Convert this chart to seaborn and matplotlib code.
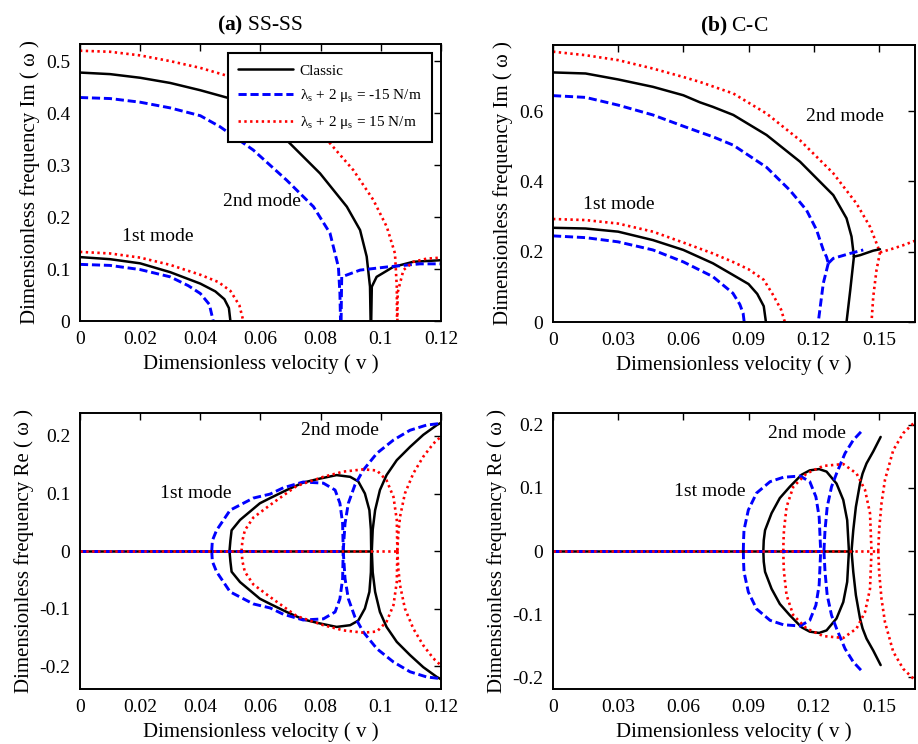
import numpy as np
import matplotlib
matplotlib.use("Agg")
import matplotlib.pyplot as plt
from matplotlib.ticker import FuncFormatter
import seaborn as sns

# ---------------- (a) SS-SS, Im(omega) ----------------
a_im_m1_cl_v = [0, 0.01, 0.02, 0.03, 0.04, 0.045, 0.048, 0.0495, 0.0500]
a_im_m1_cl_w = [0.123, 0.119, 0.111, 0.094, 0.072, 0.057, 0.042, 0.025, 0]
a_im_m1_neg_v = [0, 0.01, 0.02, 0.03, 0.036, 0.040, 0.043, 0.0443]
a_im_m1_neg_w = [0.109, 0.107, 0.099, 0.085, 0.068, 0.053, 0.032, 0]
a_im_m1_pos_v = [0, 0.01, 0.02, 0.03, 0.04, 0.046, 0.050, 0.053, 0.0543]
a_im_m1_pos_w = [0.133, 0.130, 0.122, 0.108, 0.089, 0.075, 0.058, 0.030, 0]

a_im_m2_cl_v = [0, 0.01, 0.02, 0.03, 0.04, 0.05, 0.06, 0.0687, 0.0798, 0.0887, 0.0931, 0.0953, 0.0964, 0.0966]
a_im_m2_cl_w = [0.478, 0.475, 0.468, 0.458, 0.444, 0.428, 0.395, 0.348, 0.284, 0.220, 0.175, 0.124, 0.066, 0]
a_im_m2_neg_v = [0, 0.01, 0.02, 0.03, 0.04, 0.0465, 0.0576, 0.0687, 0.0776, 0.0831, 0.0859, 0.0864, 0.0866]
a_im_m2_neg_w = [0.430, 0.428, 0.421, 0.410, 0.395, 0.374, 0.329, 0.271, 0.220, 0.169, 0.104, 0.053, 0]
a_im_m2_pos_v = [0, 0.01, 0.02, 0.03, 0.04, 0.05, 0.06, 0.07, 0.0831, 0.0909, 0.0975, 0.102, 0.1047, 0.1053, 0.1054]
a_im_m2_pos_w = [0.520, 0.518, 0.511, 0.500, 0.487, 0.470, 0.446, 0.405, 0.342, 0.290, 0.233, 0.181, 0.130, 0.066, 0]

a_im_re_cl_v = [0.0968, 0.0970, 0.0986, 0.1041, 0.1108, 0.1200]
a_im_re_cl_w = [0, 0.066, 0.085, 0.104, 0.114, 0.117]
a_im_re_neg_v = [0.0868, 0.0869, 0.0870, 0.0931, 0.1020, 0.1130, 0.1200]
a_im_re_neg_w = [0, 0.050, 0.085, 0.098, 0.104, 0.110, 0.110]
a_im_re_pos_v = [0.1055, 0.1056, 0.1075, 0.1108, 0.1152, 0.1200]
a_im_re_pos_w = [0, 0.055, 0.098, 0.114, 0.120, 0.122]

a_im_zero_cl = [0.0500, 0.0968]
a_im_zero_neg = [0.0443, 0.0868]
a_im_zero_pos = [0.0543, 0.1055]

# ---------------- (b) C-C, Im(omega) ----------------
b_im_m1_cl_v = [0, 0.015, 0.03, 0.046, 0.06, 0.0736, 0.0828, 0.09, 0.094, 0.097, 0.098]
b_im_m1_cl_w = [0.268, 0.266, 0.257, 0.233, 0.205, 0.167, 0.134, 0.108, 0.080, 0.045, 0]
b_im_m1_neg_v = [0, 0.015, 0.03, 0.046, 0.06, 0.0736, 0.0828, 0.086, 0.0875, 0.088]
b_im_m1_neg_w = [0.245, 0.240, 0.228, 0.205, 0.171, 0.129, 0.082, 0.050, 0.025, 0]
b_im_m1_pos_v = [0, 0.015, 0.03, 0.046, 0.06, 0.0736, 0.0828, 0.09, 0.097, 0.101, 0.105, 0.1067]
b_im_m1_pos_w = [0.293, 0.290, 0.280, 0.257, 0.226, 0.195, 0.171, 0.150, 0.120, 0.080, 0.035, 0]

b_im_m2_cl_v = [0, 0.015, 0.03, 0.046, 0.06, 0.0676, 0.0736, 0.083, 0.0983, 0.1137, 0.129, 0.1351, 0.1374, 0.1385]
b_im_m2_cl_w = [0.710, 0.707, 0.690, 0.669, 0.645, 0.625, 0.612, 0.589, 0.532, 0.456, 0.361, 0.295, 0.243, 0.186]
b_im_m2_neg_v = [0, 0.015, 0.03, 0.046, 0.06, 0.0676, 0.0736, 0.083, 0.0983, 0.109, 0.1167, 0.1213, 0.1244, 0.1259, 0.1267]
b_im_m2_neg_w = [0.644, 0.639, 0.617, 0.589, 0.557, 0.540, 0.527, 0.503, 0.440, 0.375, 0.318, 0.262, 0.205, 0.185, 0.167]
b_im_m2_pos_v = [0, 0.015, 0.03, 0.046, 0.06, 0.0676, 0.083, 0.0983, 0.1137, 0.129, 0.1397, 0.1459, 0.1489, 0.1505]
b_im_m2_pos_w = [0.769, 0.759, 0.745, 0.721, 0.697, 0.683, 0.650, 0.593, 0.517, 0.423, 0.337, 0.271, 0.224, 0.198]

# branches after the 2nd mode splits
b_im_dn_cl_v = [0.1385, 0.1368, 0.1351]
b_im_dn_cl_w = [0.186, 0.090, 0]
b_im_up_cl_v = [0.1385, 0.1413, 0.1474, 0.1505]
b_im_up_cl_w = [0.186, 0.190, 0.203, 0.207]
b_im_dn_neg_v = [0.1267, 0.1244, 0.1221]
b_im_dn_neg_w = [0.167, 0.110, 0]
b_im_up_neg_v = [0.1267, 0.1290, 0.1367, 0.1428]
b_im_up_neg_w = [0.167, 0.181, 0.195, 0.205]
b_im_dn_pos_v = [0.1505, 0.1489, 0.1474, 0.1466]
b_im_dn_pos_w = [0.198, 0.148, 0.072, 0]
b_im_up_pos_v = [0.1505, 0.1560, 0.1610, 0.1666]
b_im_up_pos_w = [0.198, 0.208, 0.218, 0.231]

b_im_zero_cl = [0.098, 0.1351]
b_im_zero_neg = [0.088, 0.1221]
b_im_zero_pos = [0.1067, 0.1466]

# ---------------- (a) SS-SS, Re(omega), upper halves ----------------
a_re_m1_cl_v = [0.0497, 0.0500, 0.0504, 0.0532, 0.0598, 0.0632, 0.0687, 0.0742, 0.0798, 0.0853, 0.0898, 0.0925, 0.0947, 0.0962, 0.0967, 0.0968]
a_re_m1_cl_w = [0, 0.018, 0.036, 0.054, 0.083, 0.092, 0.106, 0.119, 0.126, 0.132, 0.129, 0.121, 0.100, 0.071, 0.037, 0]
a_re_m2_cl_v = [0.0970, 0.0973, 0.0981, 0.0997, 0.1019, 0.1053, 0.1097, 0.1141, 0.1186, 0.1200]
a_re_m2_cl_w = [0, 0.037, 0.071, 0.106, 0.132, 0.158, 0.181, 0.202, 0.219, 0.223]
a_re_m1_neg_v = [0.0438, 0.0440, 0.0454, 0.0499, 0.0576, 0.0632, 0.0676, 0.0742, 0.0809, 0.0848, 0.0864, 0.0873, 0.0875]
a_re_m1_neg_w = [0, 0.018, 0.036, 0.071, 0.092, 0.099, 0.110, 0.120, 0.118, 0.106, 0.083, 0.048, 0]
a_re_m2_neg_v = [0.0875, 0.0881, 0.0892, 0.0914, 0.0942, 0.0987, 0.1042, 0.1097, 0.1152, 0.1200]
a_re_m2_neg_w = [0, 0.048, 0.083, 0.115, 0.141, 0.170, 0.193, 0.210, 0.219, 0.222]
a_re_m1_pos_v = [0.0537, 0.0540, 0.0548, 0.0576, 0.0632, 0.0720, 0.0809, 0.0875, 0.0942, 0.0987, 0.1019, 0.1042, 0.1053, 0.1055]
a_re_m1_pos_w = [0, 0.018, 0.036, 0.058, 0.080, 0.113, 0.129, 0.138, 0.142, 0.140, 0.123, 0.094, 0.054, 0]
a_re_m2_pos_v = [0.1055, 0.1058, 0.1064, 0.1080, 0.1108, 0.1141, 0.1175, 0.1200]
a_re_m2_pos_w = [0, 0.030, 0.060, 0.100, 0.135, 0.164, 0.187, 0.199]

a_re_zero_cl = [0, 0.0970]
a_re_zero_neg = [0, 0.0875]
a_re_zero_pos = [0, 0.1055]

# ---------------- (b) C-C, Re(omega), upper halves ----------------
b_re_m1_cl_v = [0.0968, 0.0970, 0.0976, 0.1006, 0.1044, 0.1090, 0.1144, 0.1182, 0.1225, 0.1259, 0.1305, 0.1336, 0.1354, 0.1362]
b_re_m1_cl_w = [0, 0.017, 0.033, 0.060, 0.084, 0.102, 0.121, 0.128, 0.130, 0.126, 0.107, 0.081, 0.049, 0]
b_re_m2_cl_v = [0.1374, 0.1382, 0.1394, 0.1413, 0.1425, 0.1443, 0.1474, 0.1508]
b_re_m2_cl_w = [0, 0.033, 0.070, 0.107, 0.123, 0.139, 0.158, 0.181]
b_re_m1_neg_v = [0.0876, 0.0877, 0.0879, 0.0899, 0.0937, 0.0999, 0.1060, 0.1137, 0.1182, 0.1210, 0.1225, 0.1232]
b_re_m1_neg_w = [0, 0.017, 0.033, 0.065, 0.092, 0.110, 0.117, 0.119, 0.110, 0.086, 0.054, 0]
b_re_m2_neg_v = [0.1247, 0.1252, 0.1262, 0.1282, 0.1305, 0.1344, 0.1382, 0.1428]
b_re_m2_neg_w = [0, 0.033, 0.070, 0.102, 0.123, 0.155, 0.176, 0.193]
b_re_m1_pos_v = [0.1060, 0.1061, 0.1063, 0.1075, 0.1106, 0.1167, 0.1244, 0.1336, 0.1397, 0.1436, 0.1459, 0.1466]
b_re_m1_pos_w = [0, 0.017, 0.033, 0.070, 0.102, 0.123, 0.135, 0.138, 0.123, 0.097, 0.060, 0]
b_re_m2_pos_v = [0.1497, 0.1501, 0.1512, 0.1528, 0.1566, 0.1612, 0.1666]
b_re_m2_pos_w = [0, 0.033, 0.076, 0.113, 0.160, 0.187, 0.205]

b_re_zero_cl = [0, 0.1374]
b_re_zero_neg = [0, 0.1247]
b_re_zero_pos = [0, 0.1497]

legend_labels = ["Classic",
                 "\u03bb$_{s}$ + 2 \u03bc$_{s}$ = -15 N/m",
                 "\u03bb$_{s}$ + 2 \u03bc$_{s}$ = 15 N/m"]

sns.set_style("white")
plt.rcParams["font.family"] = ["Liberation Serif", "DejaVu Serif"]
plt.rcParams["mathtext.fontset"] = "custom"
plt.rcParams["mathtext.rm"] = "Liberation Serif"
plt.rcParams["mathtext.it"] = "Liberation Serif"
plt.rcParams["mathtext.bf"] = "Liberation Serif:bold"
plt.rcParams["axes.unicode_minus"] = False
plt.rcParams["text.color"] = "black"
plt.rcParams["axes.labelcolor"] = "black"

STY = {
    "cl": dict(color="black", linestyle="-", linewidth=1.8),
    "neg": dict(color="#0000ff", linestyle=(0, (2.8, 1.3)), linewidth=2.1),
    "pos": dict(color="#ff0000", linestyle=(0, (0.9, 1.3)), linewidth=1.9),
}


def line(ax, v, w, key, label=None):
    sns.lineplot(x=v, y=w, ax=ax, sort=False, estimator=None, label=label, **STY[key])


def style_axes(ax, xlim, ylim, xticks, yticks, ylabel):
    ax.set_xlim(*xlim)
    ax.set_ylim(*ylim)
    ax.set_xticks(xticks)
    ax.set_yticks(yticks)
    fmt = FuncFormatter(lambda val, pos: "%g" % round(val, 4))
    ax.xaxis.set_major_formatter(fmt)
    ax.yaxis.set_major_formatter(fmt)
    ax.tick_params(direction="in", top=True, right=True, length=5, width=1,
                   labelsize=14, colors="black", pad=7)
    for s in ax.spines.values():
        s.set_linewidth(1.4)
        s.set_color("black")
    ax.set_xlabel("Dimensionless velocity ( v )", fontsize=15, labelpad=5)
    ax.set_ylabel(ylabel, fontsize=15, labelpad=4)


fig = plt.figure(figsize=(9.18, 7.44), dpi=100)
ax_a = fig.add_axes([0.0871, 0.5685, 0.3933, 0.3724])
ax_b = fig.add_axes([0.6024, 0.5672, 0.3943, 0.3723])
ax_c = fig.add_axes([0.0871, 0.0739, 0.3933, 0.3710])
ax_d = fig.add_axes([0.6024, 0.0739, 0.3943, 0.3710])

# (a) top
line(ax_a, a_im_zero_cl, [0, 0], "cl")
line(ax_a, a_im_zero_neg, [0, 0], "neg")
line(ax_a, a_im_zero_pos, [0, 0], "pos")
line(ax_a, a_im_m2_cl_v, a_im_m2_cl_w, "cl", legend_labels[0])
line(ax_a, a_im_m2_neg_v, a_im_m2_neg_w, "neg", legend_labels[1])
line(ax_a, a_im_m2_pos_v, a_im_m2_pos_w, "pos", legend_labels[2])
line(ax_a, a_im_m1_cl_v, a_im_m1_cl_w, "cl")
line(ax_a, a_im_m1_neg_v, a_im_m1_neg_w, "neg")
line(ax_a, a_im_m1_pos_v, a_im_m1_pos_w, "pos")
line(ax_a, a_im_re_cl_v, a_im_re_cl_w, "cl")
line(ax_a, a_im_re_neg_v, a_im_re_neg_w, "neg")
line(ax_a, a_im_re_pos_v, a_im_re_pos_w, "pos")
style_axes(ax_a, (0, 0.12), (0, 0.533), [0, 0.02, 0.04, 0.06, 0.08, 0.1, 0.12],
           [0, 0.1, 0.2, 0.3, 0.4, 0.5], "Dimensionless frequency Im ( \u03c9 )")
leg = ax_a.legend(loc="upper right", bbox_to_anchor=(0.975, 0.967), fontsize=11,
                  handlelength=3.6, frameon=True, fancybox=False, borderpad=0.7,
                  labelspacing=0.65, handletextpad=0.4, borderaxespad=0)
leg.get_frame().set_edgecolor("black")
leg.get_frame().set_linewidth(1.5)
leg.get_frame().set_alpha(1)
ax_a.text(0.026, 0.163, "1st mode", ha="center", va="center", fontsize=14)
ax_a.text(0.0604, 0.229, "2nd mode", ha="center", va="center", fontsize=14)
ax_a.set_title(r"$\mathbf{(a)}$ SS-SS", fontsize=15.5, pad=10)

# (b) top
line(ax_b, b_im_zero_cl, [0, 0], "cl")
line(ax_b, b_im_zero_neg, [0, 0], "neg")
line(ax_b, b_im_zero_pos, [0, 0], "pos")
line(ax_b, b_im_m2_cl_v, b_im_m2_cl_w, "cl")
line(ax_b, b_im_m2_neg_v, b_im_m2_neg_w, "neg")
line(ax_b, b_im_m2_pos_v, b_im_m2_pos_w, "pos")
line(ax_b, b_im_m1_cl_v, b_im_m1_cl_w, "cl")
line(ax_b, b_im_m1_neg_v, b_im_m1_neg_w, "neg")
line(ax_b, b_im_m1_pos_v, b_im_m1_pos_w, "pos")
line(ax_b, b_im_dn_cl_v, b_im_dn_cl_w, "cl")
line(ax_b, b_im_up_cl_v, b_im_up_cl_w, "cl")
line(ax_b, b_im_dn_neg_v, b_im_dn_neg_w, "neg")
line(ax_b, b_im_up_neg_v, b_im_up_neg_w, "neg")
line(ax_b, b_im_dn_pos_v, b_im_dn_pos_w, "pos")
line(ax_b, b_im_up_pos_v, b_im_up_pos_w, "pos")
style_axes(ax_b, (0, 0.1666), (0, 0.788), [0, 0.03, 0.06, 0.09, 0.12, 0.15],
           [0, 0.2, 0.4, 0.6], "Dimensionless frequency Im ( \u03c9 )")
ax_b.text(0.0302, 0.334, "1st mode", ha="center", va="center", fontsize=14)
ax_b.text(0.1343, 0.584, "2nd mode", ha="center", va="center", fontsize=14)
ax_b.set_title(r"$\mathbf{(b)}$ C-C", fontsize=15.5, pad=10)

# bottom panels: real parts come in +/- pairs
for ax, zeros, curves in [
    (ax_c, [(a_re_zero_cl, "cl"), (a_re_zero_neg, "neg"), (a_re_zero_pos, "pos")],
     [(a_re_m1_cl_v, a_re_m1_cl_w, "cl"), (a_re_m2_cl_v, a_re_m2_cl_w, "cl"),
      (a_re_m1_neg_v, a_re_m1_neg_w, "neg"), (a_re_m2_neg_v, a_re_m2_neg_w, "neg"),
      (a_re_m1_pos_v, a_re_m1_pos_w, "pos"), (a_re_m2_pos_v, a_re_m2_pos_w, "pos")]),
    (ax_d, [(b_re_zero_cl, "cl"), (b_re_zero_neg, "neg"), (b_re_zero_pos, "pos")],
     [(b_re_m1_cl_v, b_re_m1_cl_w, "cl"), (b_re_m2_cl_v, b_re_m2_cl_w, "cl"),
      (b_re_m1_neg_v, b_re_m1_neg_w, "neg"), (b_re_m2_neg_v, b_re_m2_neg_w, "neg"),
      (b_re_m1_pos_v, b_re_m1_pos_w, "pos"), (b_re_m2_pos_v, b_re_m2_pos_w, "pos")]),
]:
    for v, w, key in curves:
        line(ax, v, w, key)
        line(ax, v, list(np.negative(w)), key)
    for seg, key in zeros:
        line(ax, seg, [0, 0], key)

style_axes(ax_c, (0, 0.12), (-0.24, 0.24), [0, 0.02, 0.04, 0.06, 0.08, 0.1, 0.12],
           [-0.2, -0.1, 0, 0.1, 0.2], "Dimensionless frequency Re ( \u03c9 )")
ax_c.text(0.0386, 0.1, "1st mode", ha="center", va="center", fontsize=14)
ax_c.text(0.0864, 0.209, "2nd mode", ha="center", va="center", fontsize=14)

style_axes(ax_d, (0, 0.1666), (-0.219, 0.219), [0, 0.03, 0.06, 0.09, 0.12, 0.15],
           [-0.2, -0.1, 0, 0.1, 0.2], "Dimensionless frequency Re ( \u03c9 )")
ax_d.text(0.0722, 0.094, "1st mode", ha="center", va="center", fontsize=14)
ax_d.text(0.1167, 0.186, "2nd mode", ha="center", va="center", fontsize=14)

fig.savefig("out.png", dpi=100, facecolor="white")
